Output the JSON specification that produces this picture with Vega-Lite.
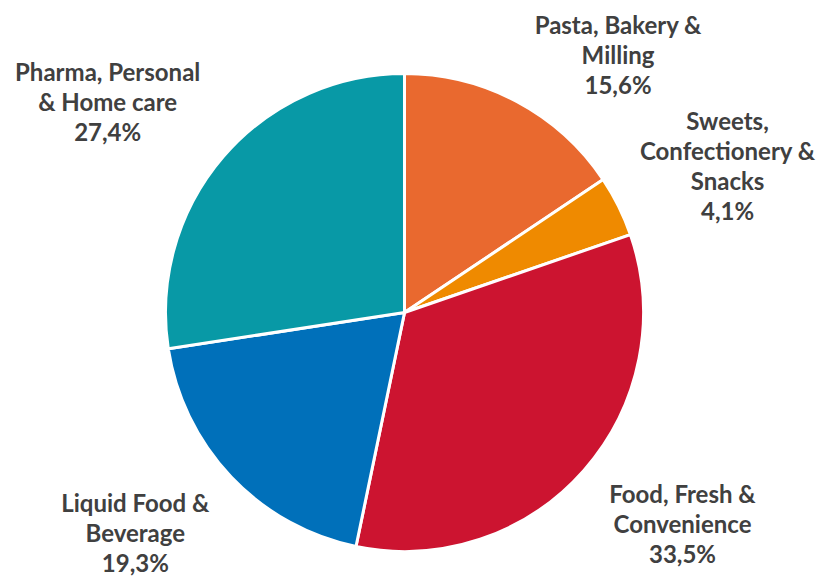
{
  "$schema": "https://vega.github.io/schema/vega-lite/v6.json",
  "width": 809,
  "height": 529,
  "autosize": {"type": "none"},
  "padding": {"left": 0, "top": 48, "right": 10, "bottom": 0},
  "background": "white",
  "view": {"stroke": null},
  "data": {
    "values": [
      {"order": 1, "category": "Pasta, Bakery & Milling", "value": 15.6, "label": "Pasta, Bakery &\nMilling\n15,6%"},
      {"order": 2, "category": "Sweets, Confectionery & Snacks", "value": 4.1, "label": "Sweets,\nConfectionery &\nSnacks\n4,1%"},
      {"order": 3, "category": "Food, Fresh & Convenience", "value": 33.5, "label": "Food, Fresh &\nConvenience\n33,5%"},
      {"order": 4, "category": "Liquid Food & Beverage", "value": 19.3, "label": "Liquid Food &\nBeverage\n19,3%"},
      {"order": 5, "category": "Pharma, Personal & Home care", "value": 27.4, "label": "Pharma, Personal\n& Home care\n27,4%"}
    ]
  },
  "encoding": {
    "theta": {"field": "value", "type": "quantitative", "stack": true},
    "order": {"field": "order", "type": "quantitative"}
  },
  "layer": [
    {
      "mark": {"type": "arc", "outerRadius": 239, "stroke": "white", "strokeWidth": 3},
      "encoding": {
        "color": {
          "field": "category",
          "type": "nominal",
          "legend": null,
          "scale": {
            "domain": ["Pasta, Bakery & Milling", "Sweets, Confectionery & Snacks", "Food, Fresh & Convenience", "Liquid Food & Beverage", "Pharma, Personal & Home care"],
            "range": ["#E9692F", "#EF8A00", "#CC1430", "#0070BA", "#0899A6"]
          }
        }
      }
    },
    {
      "mark": {
        "type": "text",
        "radius": 345,
        "font": "Lato",
        "fontWeight": "bold",
        "fontSize": 24,
        "lineHeight": 30,
        "lineBreak": "\n",
        "align": "center",
        "baseline": "middle",
        "color": "#404040",
        "dx": {"expr": "datum.order == 1 ? 51 : datum.order == 2 ? 14 : datum.order == 3 ? 19 : datum.order == 4 ? -19 : -35"},
        "dy": {"expr": "datum.order == 1 ? 19 : datum.order == 2 ? -36 : datum.order == 3 ? -44 : datum.order == 4 ? -45 : -14"}
      },
      "encoding": {
        "text": {"field": "label", "type": "nominal"}
      }
    }
  ]
}
